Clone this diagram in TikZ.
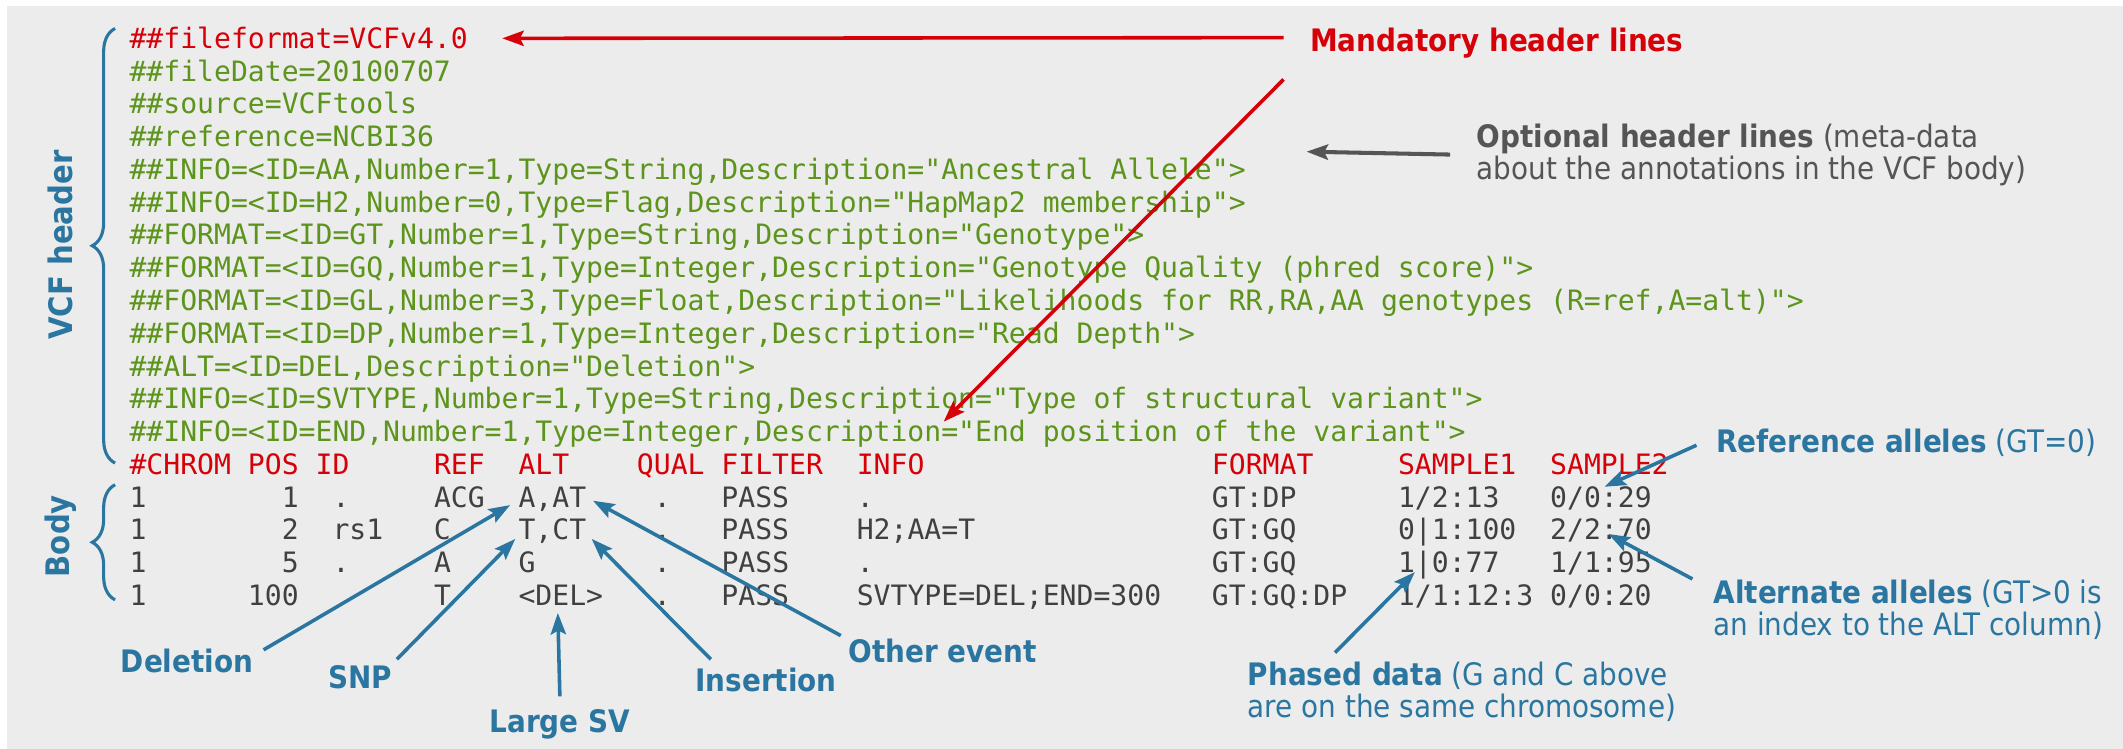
\documentclass[tikz,border=0pt]{standalone}
\usepackage{fontspec}
\usetikzlibrary{arrows.meta,decorations.pathreplacing,calc}

\newfontfamily\vcfmono{DejaVu Sans Mono}
\newfontfamily\lblfont{DejaVu Sans Condensed}[BoldFont={DejaVu Sans Condensed Bold}]

\definecolor{vcfred}{RGB}{214,0,8}
\definecolor{vcfgreen}{RGB}{92,148,28}
\definecolor{vcfblue}{RGB}{42,118,160}
\definecolor{vcfgrey}{RGB}{64,64,64}
\definecolor{optgrey}{RGB}{85,85,85}
\definecolor{bggrey}{RGB}{236,236,236}

% n blanks of the current (monospaced) font
\newcommand{\vcfgap}[1]{\hspace*{#1\fontdimen2\font}}

\begin{document}
\frenchspacing
\begin{tikzpicture}[x=0.01cm, y=-0.01cm,
    vcfline/.style={inner sep=0pt, anchor=base west, font=\vcfmono\fontsize{5.9}{6}\selectfont},
    metaline/.style={vcfline, text=vcfgreen},
    redline/.style={vcfline, text=vcfred},
    bodyline/.style={vcfline, text=vcfgrey},
    note/.style={inner sep=0pt, anchor=base west, align=left, font=\lblfont\fontsize{6.5}{6.7}\selectfont},
    bluenote/.style={note, text=vcfblue},
    sidelabel/.style={inner sep=0pt, rotate=90, text=vcfblue, font=\lblfont\bfseries\fontsize{6.8}{7}\selectfont},
    vcfbrace/.style={draw=vcfblue, line width=0.65pt, decorate, decoration={brace, amplitude=4.8pt}},
    bluearrow/.style={draw=vcfblue, line width=0.75pt, -{Stealth[length=4.5pt, width=3.2pt, inset=0.8pt]}},
    redarrow/.style={bluearrow, draw=vcfred},
    greyarrow/.style={bluearrow, draw=optgrey, line width=0.85pt}
]
\useasboundingbox (0,0) rectangle (1568,553);
\fill[bggrey] (5,4.5) rectangle (1568,553);

% Header lines
\node[redline]  (h1)  at (95,35.7)  {\#\#fileformat=VCFv4.0};
\node[metaline] (h2)  at (95,59.9)  {\#\#fileDate=20100707};
\node[metaline] (h3)  at (95,84.1)  {\#\#source=VCFtools};
\node[metaline] (h4)  at (95,108.3) {\#\#reference=NCBI36};
\node[metaline] (h5)  at (95,132.5) {\#\#INFO=<ID=AA,Number=1,Type=String,Description="Ancestral Allele">};
\node[metaline] (h6)  at (95,156.7) {\#\#INFO=<ID=H2,Number=0,Type=Flag,Description="HapMap2 membership">};
\node[metaline] (h7)  at (95,180.9) {\#\#FORMAT=<ID=GT,Number=1,Type=String,Description="Genotype">};
\node[metaline] (h8)  at (95,205.1) {\#\#FORMAT=<ID=GQ,Number=1,Type=Integer,Description="Genotype Quality (phred score)">};
\node[metaline] (h9)  at (95,229.3) {\#\#FORMAT=<ID=GL,Number=3,Type=Float,Description="Likelihoods for RR,RA,AA genotypes (R=ref,A=alt)">};
\node[metaline] (h10) at (95,253.5) {\#\#FORMAT=<ID=DP,Number=1,Type=Integer,Description="Read Depth">};
\node[metaline] (h11) at (95,277.7) {\#\#ALT=<ID=DEL,Description="Deletion">};
\node[metaline] (h12) at (95,301.9) {\#\#INFO=<ID=SVTYPE,Number=1,Type=String,Description="Type of structural variant">};
\node[metaline] (h13) at (95,326.1) {\#\#INFO=<ID=END,Number=1,Type=Integer,Description="End position of the variant">};

% Column line and body
\node[redline]  (cols) at (95,350.3) {\#CHROM\vcfgap{1}POS\vcfgap{1}ID\vcfgap{5}REF\vcfgap{2}ALT\vcfgap{4}QUAL\vcfgap{1}FILTER\vcfgap{2}INFO\vcfgap{17}FORMAT\vcfgap{5}SAMPLE1\vcfgap{2}SAMPLE2};
\node[bodyline] (r1) at (95,374.5) {1\vcfgap{8}1\vcfgap{2}.\vcfgap{5}ACG\vcfgap{2}A,AT\vcfgap{4}.\vcfgap{3}PASS\vcfgap{4}.\vcfgap{20}GT:DP\vcfgap{6}1/2:13\vcfgap{3}0/0:29};
\node[bodyline] (r2) at (95,398.7) {1\vcfgap{8}2\vcfgap{2}rs1\vcfgap{3}C\vcfgap{4}T,CT\vcfgap{4}.\vcfgap{3}PASS\vcfgap{4}H2;AA=T\vcfgap{14}GT:GQ\vcfgap{6}0|1:100\vcfgap{2}2/2:70};
\node[bodyline] (r3) at (95,422.9) {1\vcfgap{8}5\vcfgap{2}.\vcfgap{5}A\vcfgap{4}G\vcfgap{7}.\vcfgap{3}PASS\vcfgap{4}.\vcfgap{20}GT:GQ\vcfgap{6}1|0:77\vcfgap{3}1/1:95};
\node[bodyline] (r4) at (95,447.1) {1\vcfgap{6}100\vcfgap{8}T\vcfgap{4}<DEL>\vcfgap{3}.\vcfgap{3}PASS\vcfgap{4}SVTYPE=DEL;END=300\vcfgap{3}GT:GQ:DP\vcfgap{3}1/1:12:3\vcfgap{1}0/0:20};

% Braces
\draw[vcfbrace] (85,342) -- (85,21);
\draw[vcfbrace] (85,443) -- (85,358);
\node[sidelabel] (vcfh) at (45,181) {VCF header};
\node[sidelabel] (body) at (45,396) {Body};

% Notes
\node[note, text=vcfred, font=\lblfont\bfseries\fontsize{6.5}{6.7}\selectfont] (man) at (967,38) {Mandatory header lines};
\node[note, text=optgrey, anchor=north west] (opt) at (1090,90.6) {\textbf{Optional header lines} (meta-data\\about the annotations in the VCF body)};
\node[bluenote] (ref) at (1267,334) {\textbf{Reference alleles} (GT=0)};
\node[bluenote, anchor=north west] (alt) at (1265,427.6) {\textbf{Alternate alleles} (GT>0 is\\an index to the ALT column)};
\node[bluenote, anchor=north west] (ph) at (921,488) {\textbf{Phased data} (G and C above\\are on the same chromosome)};
\node[bluenote] (del) at (88.6,497) {\textbf{Deletion}};
\node[bluenote] (snp) at (241.6,508.6) {\textbf{SNP}};
\node[bluenote, anchor=base] (sv) at (413.5,541) {\textbf{Large SV}};
\node[bluenote] (ins) at (513,511) {\textbf{Insertion}};
\node[bluenote] (oth) at (626,489.5) {\textbf{Other event}};

% Arrow tips
\coordinate (tipFF)  at (371,28.3);
\coordinate (tipEq)  at (697,311.4);
\coordinate (tipOpt) at (965,112);
\coordinate (tipRef) at (1185,359.5);
\coordinate (tipAlt) at (1188,394.4);
\coordinate (tipPh)  at (1045,422.5);
\coordinate (tipDel) at (376.8,373);
\coordinate (tipSnp) at (380.6,398);
\coordinate (tipSv)  at (412,452.7);
\coordinate (tipIns) at (437,398);
\coordinate (tipOth) at (438,369.8);

% Connections
\draw[redarrow] ($(man.west)+(-19,-4)$) -- (tipFF);
\draw[redarrow] ($(man.south west)+(-19,15)$) -- (tipEq);
\draw[greyarrow] ($(opt.west)+(-19,0)$) -- (tipOpt);
\draw[bluearrow] ($(ref.west)+(-14,2)$) -- (tipRef);
\draw[bluearrow] ($(alt.north west)+(-15,0)$) -- (tipAlt);
\draw[bluearrow] ($(ph.north west)+(65,-6)$) -- (tipPh);
\draw[bluearrow] ($(del.north east)+(7,1)$) -- (tipDel);
\draw[bluearrow] ($(snp.north east)+(3,-4)$) -- (tipSnp);
\draw[bluearrow] ($(sv.north)+(0,-9)$) -- (tipSv);
\draw[bluearrow] ($(ins.north west)+(12,-6)$) -- (tipIns);
\draw[bluearrow] ($(oth.north west)+(-5,-2)$) -- (tipOth);
\end{tikzpicture}
\end{document}
